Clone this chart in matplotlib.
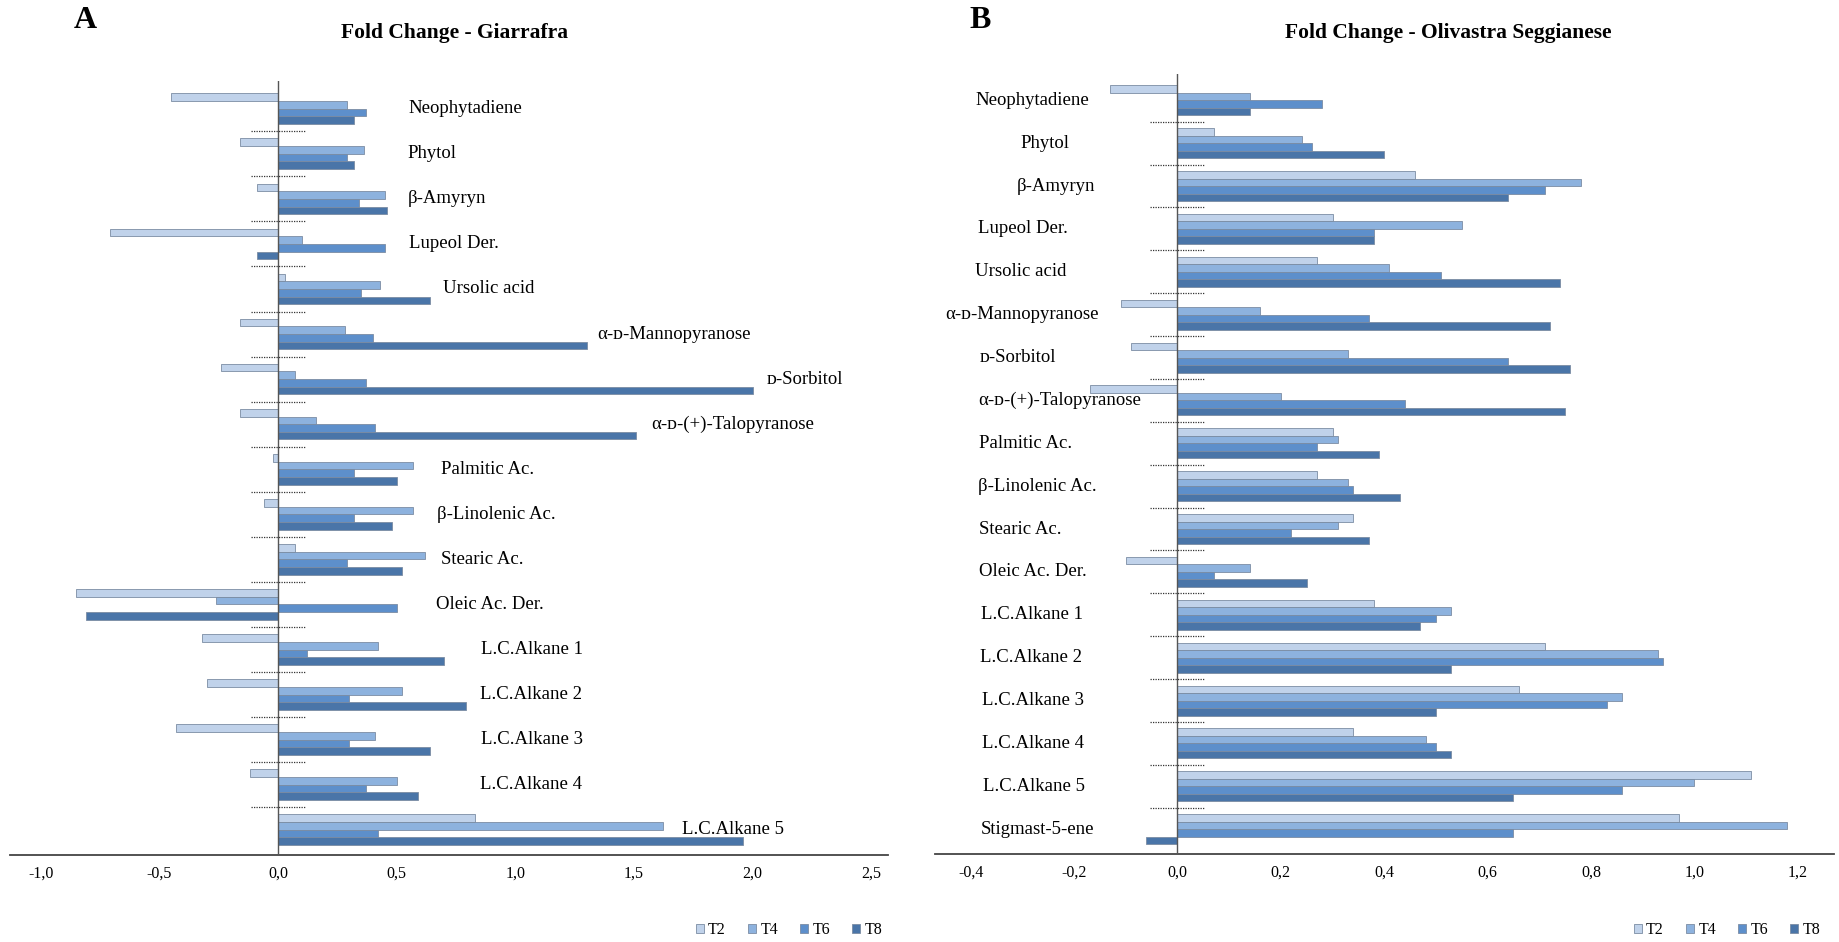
import numpy as np
import matplotlib
matplotlib.use("Agg")
import matplotlib.pyplot as plt
from matplotlib.patches import Patch
from matplotlib.ticker import FuncFormatter

plt.rcParams['font.family'] = ['Liberation Serif', 'DejaVu Serif']

series = ["T2", "T4", "T6", "T8"]
colors = ["#c0d2ea", "#8db2de", "#5d8fcb", "#4a75a8"]

# panel A - Giarrafra (top to bottom)
compounds_a = ["Neophytadiene", "Phytol", "β-Amyryn", "Lupeol Der.", "Ursolic acid",
               "α-ᴅ-Mannopyranose", "ᴅ-Sorbitol", "α-ᴅ-(+)-Talopyranose",
               "Palmitic Ac.", "β-Linolenic Ac.", "Stearic Ac.", "Oleic Ac. Der.",
               "L.C.Alkane 1", "L.C.Alkane 2", "L.C.Alkane 3", "L.C.Alkane 4", "L.C.Alkane 5"]
a_t2 = [-0.45, -0.16, -0.09, -0.71, 0.03, -0.16, -0.24, -0.16, -0.02, -0.06, 0.07, -0.85,
        -0.32, -0.30, -0.43, -0.12, 0.83]
a_t4 = [0.29, 0.36, 0.45, 0.10, 0.43, 0.28, 0.07, 0.16, 0.57, 0.57, 0.62, -0.26,
        0.42, 0.52, 0.41, 0.50, 1.62]
a_t6 = [0.37, 0.29, 0.34, 0.45, 0.35, 0.40, 0.37, 0.41, 0.32, 0.32, 0.29, 0.50,
        0.12, 0.30, 0.30, 0.37, 0.42]
a_t8 = [0.32, 0.32, 0.46, -0.09, 0.64, 1.30, 2.00, 1.51, 0.50, 0.48, 0.52, -0.81,
        0.70, 0.79, 0.64, 0.59, 1.96]

# panel B - Olivastra Seggianese (top to bottom)
compounds_b = ["Neophytadiene", "Phytol", "β-Amyryn", "Lupeol Der.", "Ursolic acid",
               "α-ᴅ-Mannopyranose", "ᴅ-Sorbitol", "α-ᴅ-(+)-Talopyranose",
               "Palmitic Ac.", "β-Linolenic Ac.", "Stearic Ac.", "Oleic Ac. Der.",
               "L.C.Alkane 1", "L.C.Alkane 2", "L.C.Alkane 3", "L.C.Alkane 4", "L.C.Alkane 5",
               "Stigmast-5-ene"]
b_t2 = [-0.13, 0.07, 0.46, 0.30, 0.27, -0.11, -0.09, -0.17, 0.30, 0.27, 0.34, -0.10,
        0.38, 0.71, 0.66, 0.34, 1.11, 0.97]
b_t4 = [0.14, 0.24, 0.78, 0.55, 0.41, 0.16, 0.33, 0.20, 0.31, 0.33, 0.31, 0.14,
        0.53, 0.93, 0.86, 0.48, 1.00, 1.18]
b_t6 = [0.28, 0.26, 0.71, 0.38, 0.51, 0.37, 0.64, 0.44, 0.27, 0.34, 0.22, 0.07,
        0.50, 0.94, 0.83, 0.50, 0.86, 0.65]
b_t8 = [0.14, 0.40, 0.64, 0.38, 0.74, 0.72, 0.76, 0.75, 0.39, 0.43, 0.37, 0.25,
        0.47, 0.53, 0.50, 0.53, 0.65, -0.06]

# where the compound names start (data units), as placed in the original
label_x_a = [0.55, 0.545, 0.545, 0.55, 0.695, 1.346, 2.06, 1.573, 0.685, 0.671, 0.685,
             0.666, 0.854, 0.849, 0.854, 0.849, 1.70]
label_x_b = [-0.39, -0.303, -0.31, -0.386, -0.392, -0.449, -0.383, -0.385, -0.383, -0.385,
             -0.384, -0.384, -0.38, -0.381, -0.378, -0.378, -0.376, -0.38]


def comma(v, pos):
    return f"{v:.1f}".replace(".", ",")


def draw_panel(ax, names, values, label_x, xlim, ticks, ylim, bar_h):
    y = np.arange(len(names))
    for k, (vals, col) in enumerate(zip(values, colors)):
        ax.barh(y + (k - 1.5) * bar_h, vals, height=bar_h, color=col,
                edgecolor="#7b8ca3", linewidth=0.6, zorder=2)
    ax.set_xlim(*xlim)
    ax.set_ylim(*ylim)
    ax.set_xticks(ticks)
    ax.xaxis.set_major_formatter(FuncFormatter(comma))
    ax.tick_params(axis="x", length=0, pad=8, labelsize=11.5)
    ax.set_yticks([])
    for s in ["top", "right", "left"]:
        ax.spines[s].set_visible(False)
    ax.spines["bottom"].set_color("#444444")
    ax.spines["bottom"].set_linewidth(1.3)
    ax.axvline(0, color="#555555", lw=1.0, zorder=3)

    # short dotted separators between groups, ~27 px each side of zero
    half = 27 / (ax.bbox.width / (xlim[1] - xlim[0]))
    for b in y[:-1] + 0.5:
        ax.plot([-half, half], [b, b], color="#333333", lw=0.9, ls=(0, (1, 1)), zorder=3)

    for yi, name, lx in zip(y, names, label_x):
        ax.text(lx, yi, name, ha="left", va="center", fontsize=13.5)


fig = plt.figure(figsize=(18.39, 9.42), dpi=100)
W, H = 1839, 942

ax_a = fig.add_axes([10 / W, (H - 855) / H, 878 / W, (855 - 81) / H])
draw_panel(ax_a, compounds_a, [a_t2, a_t4, a_t6, a_t8], label_x_a,
           (-1.13, 2.57), np.arange(-1.0, 2.51, 0.5), (16.56, -0.615), 0.17)

ax_b = fig.add_axes([935 / W, (H - 854) / H, 899 / W, (854 - 74) / H])
draw_panel(ax_b, compounds_b, [b_t2, b_t4, b_t6, b_t8], label_x_b,
           (-0.469, 1.27), np.arange(-0.4, 1.21, 0.2), (17.58, -0.613), 0.175)

fig.text(455 / W, 1 - 33 / H, "Fold Change - Giarrafra", ha="center", va="center",
         fontsize=15.5, fontweight="bold")
fig.text(1448 / W, 1 - 33 / H, "Fold Change - Olivastra Seggianese", ha="center",
         va="center", fontsize=15.5, fontweight="bold")
fig.text(85 / W, 1 - 20 / H, "A", ha="center", va="center", fontsize=23, fontweight="bold")
fig.text(980 / W, 1 - 20 / H, "B", ha="center", va="center", fontsize=23, fontweight="bold")

handles = [Patch(facecolor=c, edgecolor="#7b8ca3", linewidth=0.6) for c in colors]
for right in (882 / W, 1820 / W):
    fig.legend(handles, series, loc="center right", bbox_to_anchor=(right, 1 - 930 / H),
               ncol=4, frameon=False, fontsize=11.5, handlelength=0.5, handleheight=0.5,
               handletextpad=0.25, columnspacing=1.4, borderpad=0, borderaxespad=0)

fig.savefig("out.png", dpi=100)
